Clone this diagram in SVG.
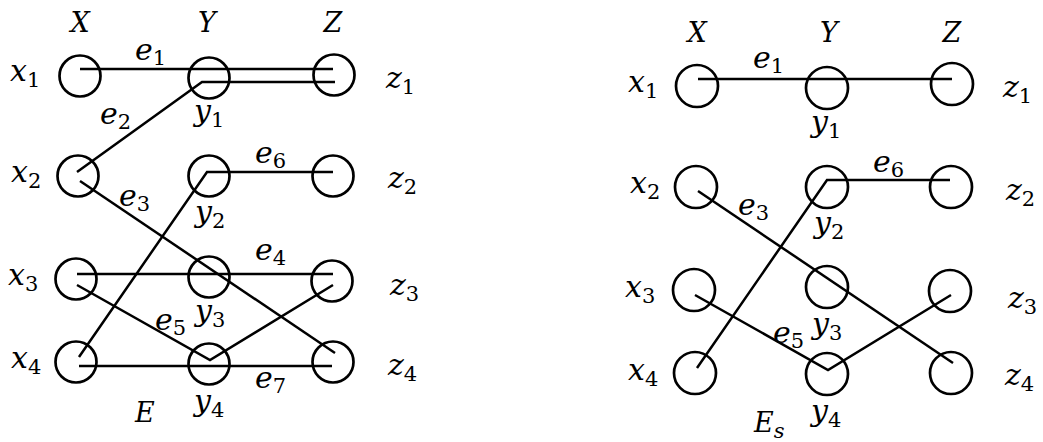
<svg xmlns="http://www.w3.org/2000/svg" width="1043" height="442" viewBox="0 0 1043 442">
<style>
.n{fill:none;stroke:#000;stroke-width:2.7}
.e{fill:none;stroke:#000;stroke-width:2.5;stroke-linejoin:miter}
text{font-family:"DejaVu Serif","Liberation Serif",serif;font-style:italic;fill:#000}
.v{font-size:30px}
.h{font-size:27px}
.s{font-size:21px;font-style:normal}
.ss{font-size:21px}
</style>
<rect width="1043" height="442" fill="#fff"/>
<g id="left">
<g id="connectors-left">
<line class="e" x1="80" y1="69" x2="333" y2="69"/>
<polyline class="e" points="77,172 202,82 335,82"/>
<polyline class="e" points="79,357 207,172 333,172"/>
<line class="e" x1="80" y1="181" x2="335" y2="353"/>
<line class="e" x1="77" y1="274" x2="333" y2="274"/>
<polyline class="e" points="77,285 210,360 333,285"/>
<line class="e" x1="79" y1="366" x2="332" y2="366"/>
</g>
<g id="L-x1"><circle class="n" cx="80" cy="76" r="20.5"/><text class="v" x="10" y="81">x<tspan class="s" dy="6">1</tspan></text></g>
<g id="L-y1"><circle class="n" cx="209" cy="78" r="20.5"/><text class="v" x="194" y="121">y<tspan class="s" dy="6">1</tspan></text></g>
<g id="L-z1"><circle class="n" cx="334" cy="75" r="20.5"/><text class="v" x="386" y="88">z<tspan class="s" dy="6">1</tspan></text></g>
<g id="L-x2"><circle class="n" cx="78" cy="176" r="20.5"/><text class="v" x="11" y="182">x<tspan class="s" dy="6">2</tspan></text></g>
<g id="L-y2"><circle class="n" cx="209" cy="176" r="20.5"/><text class="v" x="195" y="222">y<tspan class="s" dy="6">2</tspan></text></g>
<g id="L-z2"><circle class="n" cx="333" cy="176" r="20.5"/><text class="v" x="388" y="188">z<tspan class="s" dy="6">2</tspan></text></g>
<g id="L-x3"><circle class="n" cx="76" cy="279" r="20.5"/><text class="v" x="8" y="285">x<tspan class="s" dy="6">3</tspan></text></g>
<g id="L-y3"><circle class="n" cx="209" cy="277" r="20.5"/><text class="v" x="195" y="321">y<tspan class="s" dy="6">3</tspan></text></g>
<g id="L-z3"><circle class="n" cx="332" cy="281" r="20.5"/><text class="v" x="390" y="295">z<tspan class="s" dy="6">3</tspan></text></g>
<g id="L-x4"><circle class="n" cx="76" cy="362" r="20.5"/><text class="v" x="11" y="368">x<tspan class="s" dy="6">4</tspan></text></g>
<g id="L-y4"><circle class="n" cx="209" cy="364" r="20.5"/><text class="v" x="194" y="411">y<tspan class="s" dy="6">4</tspan></text></g>
<g id="L-z4"><circle class="n" cx="333" cy="362" r="20.5"/><text class="v" x="388" y="375">z<tspan class="s" dy="6">4</tspan></text></g>
<g id="L-labels">
<text class="h" x="80" y="32" text-anchor="middle">X</text>
<text class="h" x="207" y="32" text-anchor="middle">Y</text>
<text class="h" x="333" y="32" text-anchor="middle">Z</text>
<text class="v" x="135" y="60">e<tspan class="s" dy="5">1</tspan></text>
<text class="v" x="100" y="124">e<tspan class="s" dy="5">2</tspan></text>
<text class="v" x="119" y="206">e<tspan class="s" dy="5">3</tspan></text>
<text class="v" x="255" y="260">e<tspan class="s" dy="5">4</tspan></text>
<text class="v" x="155" y="330">e<tspan class="s" dy="5">5</tspan></text>
<text class="v" x="255" y="163">e<tspan class="s" dy="5">6</tspan></text>
<text class="v" x="255" y="388">e<tspan class="s" dy="5">7</tspan></text>
<text class="h" x="135" y="422">E</text>
</g>
</g>
<g id="right">
<g id="connectors-right">
<line class="e" x1="698" y1="79" x2="952" y2="79"/>
<polyline class="e" points="697,368 827,180 950,180"/>
<line class="e" x1="698" y1="191" x2="953" y2="363"/>
<polyline class="e" points="695,295 828,370 951,295"/>
</g>
<g id="R-x1"><circle class="n" cx="697" cy="86" r="21"/><text class="v" x="628" y="92">x<tspan class="s" dy="6">1</tspan></text></g>
<g id="R-y1"><circle class="n" cx="827" cy="88" r="21"/><text class="v" x="811" y="132">y<tspan class="s" dy="6">1</tspan></text></g>
<g id="R-z1"><circle class="n" cx="952" cy="84" r="21"/><text class="v" x="1003" y="97">z<tspan class="s" dy="6">1</tspan></text></g>
<g id="R-x2"><circle class="n" cx="696" cy="187" r="21"/><text class="v" x="630" y="193">x<tspan class="s" dy="6">2</tspan></text></g>
<g id="R-y2"><circle class="n" cx="827" cy="187" r="21"/><text class="v" x="814" y="233">y<tspan class="s" dy="6">2</tspan></text></g>
<g id="R-z2"><circle class="n" cx="951" cy="187" r="21"/><text class="v" x="1006" y="200">z<tspan class="s" dy="6">2</tspan></text></g>
<g id="R-x3"><circle class="n" cx="694" cy="290" r="21"/><text class="v" x="625" y="297">x<tspan class="s" dy="6">3</tspan></text></g>
<g id="R-y3"><circle class="n" cx="827" cy="287" r="21"/><text class="v" x="812" y="334">y<tspan class="s" dy="6">3</tspan></text></g>
<g id="R-z3"><circle class="n" cx="950" cy="291" r="21"/><text class="v" x="1008" y="308">z<tspan class="s" dy="6">3</tspan></text></g>
<g id="R-x4"><circle class="n" cx="695" cy="373" r="21"/><text class="v" x="628" y="380">x<tspan class="s" dy="6">4</tspan></text></g>
<g id="R-y4"><circle class="n" cx="827" cy="374" r="21"/><text class="v" x="811" y="421">y<tspan class="s" dy="6">4</tspan></text></g>
<g id="R-z4"><circle class="n" cx="951" cy="373" r="21"/><text class="v" x="1005" y="385">z<tspan class="s" dy="6">4</tspan></text></g>
<g id="R-labels">
<text class="h" x="697" y="42" text-anchor="middle">X</text>
<text class="h" x="829" y="42" text-anchor="middle">Y</text>
<text class="h" x="952" y="42" text-anchor="middle">Z</text>
<text class="v" x="753" y="68">e<tspan class="s" dy="5">1</tspan></text>
<text class="v" x="738" y="215">e<tspan class="s" dy="5">3</tspan></text>
<text class="v" x="773" y="343">e<tspan class="s" dy="5">5</tspan></text>
<text class="v" x="873" y="172">e<tspan class="s" dy="5">6</tspan></text>
<text class="h" x="754" y="432">E<tspan class="ss" dy="6">s</tspan></text>
</g>
</g>
</svg>
